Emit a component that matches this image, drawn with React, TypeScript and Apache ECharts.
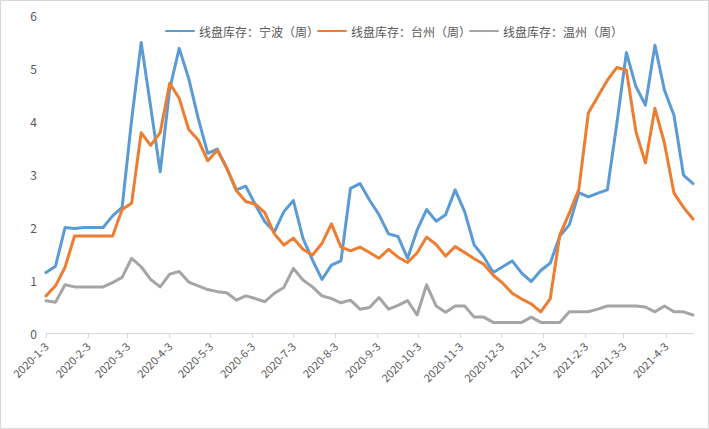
import React, { useEffect, useRef } from "react";
import * as echarts from "echarts";

// Weekly observations, first one on 2020-1-3, one per week
const START_DATE = "2020-1-3";
const SERIES_NAMES = ["线盘库存：宁波（周）", "线盘库存：台州（周）", "线盘库存：温州（周）"];

const ningbo = [
  1.14, 1.26, 1.99, 1.97, 1.99, 1.99, 1.99, 2.21, 2.37, 4.02,
  5.48, 4.27, 3.04, 4.6, 5.37, 4.8, 4.05, 3.39, 3.47, 3.11,
  2.7, 2.77, 2.42, 2.1, 1.91, 2.29, 2.5, 1.79, 1.38, 1.01,
  1.28, 1.36, 2.73, 2.82, 2.51, 2.23, 1.87, 1.82, 1.41, 1.94,
  2.33, 2.11, 2.23, 2.7, 2.29, 1.66, 1.44, 1.14, 1.25, 1.36,
  1.13, 0.97, 1.18, 1.32, 1.83, 2.04, 2.65, 2.57, 2.64, 2.7,
  3.96, 5.29, 4.65, 4.3, 5.43, 4.58, 4.11, 2.98, 2.82,
];
const taizhou = [
  0.7, 0.89, 1.24, 1.83, 1.83, 1.83, 1.83, 1.83, 2.33, 2.45,
  3.78, 3.54, 3.78, 4.71, 4.43, 3.84, 3.64, 3.25, 3.45, 3.11,
  2.69, 2.48, 2.43, 2.27, 1.87, 1.66, 1.79, 1.58, 1.47, 1.69,
  2.06, 1.62, 1.55, 1.62, 1.52, 1.41, 1.58, 1.43, 1.33, 1.51,
  1.81, 1.67, 1.45, 1.63, 1.52, 1.4, 1.3, 1.09, 0.94, 0.75,
  0.64, 0.55, 0.4, 0.65, 1.85, 2.26, 2.71, 4.15, 4.46, 4.77,
  5.01, 4.96, 3.8, 3.21, 4.24, 3.58, 2.64, 2.37, 2.15,
];
const wenzhou = [
  0.61, 0.58, 0.91, 0.87, 0.87, 0.87, 0.87, 0.95, 1.05, 1.41,
  1.25, 1.01, 0.87, 1.11, 1.16, 0.96, 0.89, 0.82, 0.78, 0.76,
  0.62, 0.7, 0.65, 0.59, 0.75, 0.86, 1.22, 1.0, 0.87, 0.7,
  0.65, 0.57, 0.62, 0.45, 0.48, 0.67, 0.45, 0.52, 0.61, 0.34,
  0.91, 0.51, 0.39, 0.51, 0.51, 0.3, 0.3, 0.2, 0.2, 0.2,
  0.2, 0.3, 0.2, 0.2, 0.2, 0.4, 0.4, 0.4, 0.45, 0.51,
  0.51, 0.51, 0.51, 0.49, 0.4, 0.51, 0.4, 0.4, 0.34,
];

const tickLabels = [
  "2020-1-3", "2020-2-3", "2020-3-3", "2020-4-3", "2020-5-3", "2020-6-3",
  "2020-7-3", "2020-8-3", "2020-9-3", "2020-10-3", "2020-11-3", "2020-12-3",
  "2021-1-3", "2021-2-3", "2021-3-3", "2021-4-3",
];

const COLORS = ["#5B9BD5", "#ED7D31", "#A5A5A5"];

function fmt(d: Date) {
  return `${d.getFullYear()}-${d.getMonth() + 1}-${d.getDate()}`;
}

function buildDays(weeks: number) {
  const [y, m, d] = START_DATE.split("-").map(Number);
  const start = new Date(y, m - 1, d, 12);
  const days: string[] = [];
  const total = (weeks - 1) * 7 + 1;
  for (let i = 0; i < total; i++) {
    const dt = new Date(start.getTime());
    dt.setDate(start.getDate() + i);
    days.push(fmt(dt));
  }
  return days;
}

function spread(values: number[], len: number) {
  const out: (number | null)[] = new Array(len).fill(null);
  values.forEach((v, i) => {
    out[i * 7] = v;
  });
  return out;
}

export default function App() {
  const ref = useRef<HTMLDivElement>(null);
  useEffect(() => {
    if (!ref.current) return;
    const chart = echarts.init(ref.current, undefined, { renderer: "svg" });
    const days = buildDays(ningbo.length);
    const font = "'Noto Sans CJK SC', 'Microsoft YaHei', sans-serif";
    const showTick = (_i: number, v: string) => tickLabels.includes(v);
    const all = [ningbo, taizhou, wenzhou];
    chart.setOption({
      animation: false,
      backgroundColor: "#ffffff",
      textStyle: { fontFamily: font },
      graphic: [
        {
          type: "rect",
          shape: { x: 0.5, y: 0.5, width: 708, height: 428 },
          style: { fill: "none", stroke: "#d9d9d9", lineWidth: 1 },
          silent: true,
        },
      ],
      legend: {
        left: 160,
        top: 20,
        itemWidth: 28,
        itemHeight: 3,
        itemGap: -2,
        textStyle: { color: "#595959", fontSize: 12, fontFamily: font },
        data: SERIES_NAMES,
      },
      grid: { left: 46, right: 16, top: 15, bottom: 96, containLabel: false },
      xAxis: {
        type: "category",
        data: days,
        boundaryGap: false,
        axisLine: { lineStyle: { color: "#d9d9d9", width: 1 } },
        axisTick: {
          show: true,
          interval: showTick,
          length: 5,
          lineStyle: { color: "#d9d9d9" },
        },
        axisLabel: {
          interval: showTick,
          rotate: 45,
          margin: 11,
          color: "#595959",
          fontSize: 11,
          fontFamily: font,
        },
        splitLine: { show: false },
      },
      yAxis: {
        type: "value",
        min: 0,
        max: 6,
        interval: 1,
        axisLine: { show: false },
        axisTick: { show: false },
        splitLine: { show: false },
        axisLabel: { color: "#595959", fontSize: 12, margin: 9, fontFamily: font },
      },
      series: all.map((vals, i) => ({
        name: SERIES_NAMES[i],
        type: "line",
        data: spread(vals, days.length),
        connectNulls: true,
        symbol: "none",
        lineStyle: { color: COLORS[i], width: 3, join: "round", cap: "round" },
        itemStyle: { color: COLORS[i] },
      })),
    });
    return () => chart.dispose();
  }, []);
  return (
    <div
      ref={ref}
      style={{ position: "absolute", left: 0, top: 0, width: 709, height: 429, background: "#fff" }}
    />
  );
}
